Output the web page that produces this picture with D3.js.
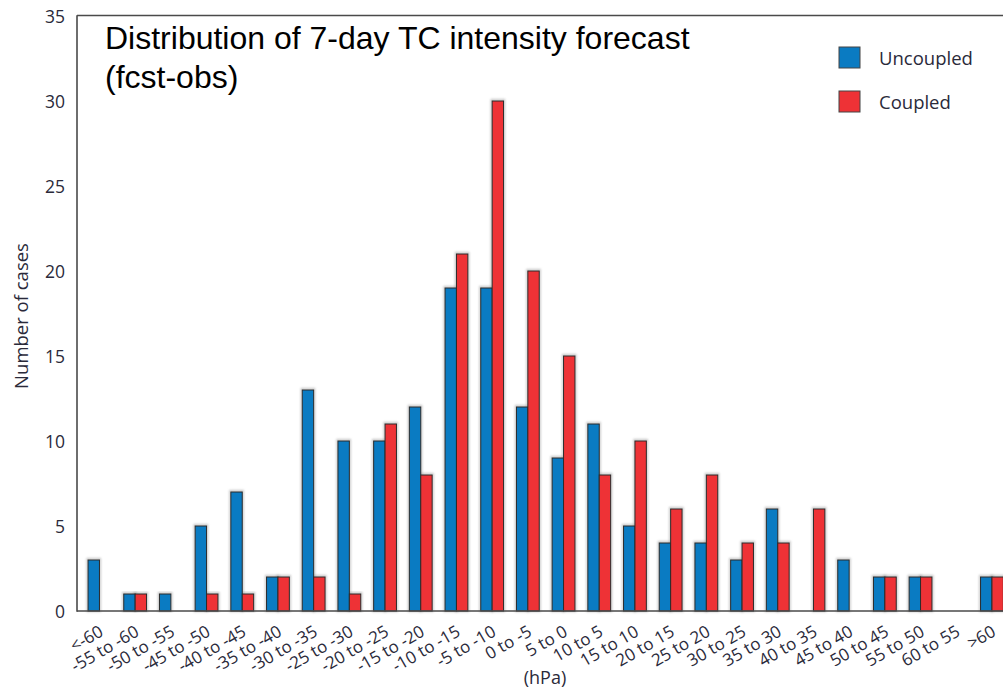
<!DOCTYPE html>
<html>
<head>
<meta charset="utf-8">
<script src="https://cdn.jsdelivr.net/npm/d3@7"></script>
<style>
  html, body { margin: 0; padding: 0; background: #fff; overflow: hidden; }
  svg { display: block; }
</style>
</head>
<body>
<svg id="chart" width="1003" height="690"></svg>
<script>
// Forecast-minus-observed pressure bins (hPa)
const categories = ["<-60", "-55 to -60", "-50 to -55", "-45 to -50", "-40 to -45", "-35 to -40",
  "-30 to -35", "-25 to -30", "-20 to -25", "-15 to -20", "-10 to -15", "-5 to -10", "0 to -5",
  "5 to 0", "10 to 5", "15 to 10", "20 to 15", "25 to 20", "30 to 25", "35 to 30", "40 to 35",
  "45 to 40", "50 to 45", "55 to 50", "60 to 55", ">60"];
const uncoupled = [3, 1, 1, 5, 7, 2, 13, 10, 10, 12, 19, 19, 12, 9, 11, 5, 4, 4, 3, 6, 0, 3, 2, 2, 0, 2];
const coupled   = [0, 1, 0, 1, 1, 2, 2, 1, 11, 8, 21, 30, 20, 15, 8, 10, 6, 8, 4, 4, 6, 0, 2, 2, 0, 2];
const seriesNames = ["Uncoupled", "Coupled"];
const seriesColors = ["#0a7bc2", "#ee3236"];
const yTicks = [0, 5, 10, 15, 20, 25, 30, 35];

const svg = d3.select("#chart");
const plot = { left: 77, top: 16, bottom: 611, right: 1040 };
const step = 35.7;
const x0 = 81.6;

const x = d3.scaleBand()
  .domain(categories)
  .range([x0, x0 + step * categories.length])
  .paddingInner(0).paddingOuter(0);

const xs = d3.scaleBand()
  .domain(seriesNames)
  .range([0, x.bandwidth()])
  .paddingInner(0).paddingOuter(0.566);

const y = d3.scaleLinear().domain([0, 35]).range([plot.bottom, plot.top]);

const textColor = "#2a2a3a";
const uiFont = "'Open Sans', 'Noto Sans', sans-serif";

// soft halo under the bars
const defs = svg.append("defs");
const f = defs.append("filter").attr("id", "halo").attr("x", "-50%").attr("y", "-10%")
  .attr("width", "200%").attr("height", "120%");
f.append("feGaussianBlur").attr("stdDeviation", 0.9);

const rows = categories.map((c, i) => ({ cat: c, vals: [uncoupled[i], coupled[i]] }));

const groups = svg.append("g").selectAll("g")
  .data(rows).join("g")
  .attr("transform", d => `translate(${x(d.cat)},0)`);

const barData = d => d.vals.map((v, k) => ({ name: seriesNames[k], v, k })).filter(b => b.v > 0);

groups.selectAll("rect.halo")
  .data(barData).join("rect")
  .attr("class", "halo")
  .attr("x", b => xs(b.name) - 0.5)
  .attr("y", b => y(b.v) - 1)
  .attr("width", xs.bandwidth() + 1)
  .attr("height", b => y(0) - y(b.v) + 1)
  .attr("fill", "none")
  .attr("stroke", "#9a9a9a")
  .attr("stroke-width", 2.2)
  .attr("opacity", 0.55)
  .attr("filter", "url(#halo)");

groups.selectAll("rect.bar")
  .data(barData).join("rect")
  .attr("class", "bar")
  .attr("x", b => xs(b.name))
  .attr("y", b => y(b.v))
  .attr("width", xs.bandwidth())
  .attr("height", b => y(0) - y(b.v))
  .attr("fill", b => seriesColors[b.k])
  .attr("stroke", "#2b2b2b")
  .attr("stroke-width", 1);

// frame: left axis, top border, baseline
const frame = svg.append("g").attr("stroke", "#4a4a4a").attr("stroke-width", 1.6).attr("fill", "none");
frame.append("line").attr("x1", plot.left).attr("x2", plot.left).attr("y1", plot.top - 0.8).attr("y2", plot.bottom + 0.8);
frame.append("line").attr("x1", plot.left).attr("x2", plot.right).attr("y1", plot.top - 0.5).attr("y2", plot.top - 0.5);
frame.append("line").attr("x1", plot.left).attr("x2", plot.right).attr("y1", plot.bottom).attr("y2", plot.bottom);

// y axis labels
const yAxis = d3.axisLeft(y).tickValues(yTicks).tickSize(0).tickPadding(12);
const gy = svg.append("g").attr("transform", `translate(${plot.left},0)`).call(yAxis);
gy.select(".domain").remove();
gy.selectAll("text")
  .attr("font-family", uiFont).attr("font-size", 17.5).attr("fill", textColor)
  .attr("dy", "0.35em");

// x axis labels, rotated
const xAxis = d3.axisBottom(x).tickSize(0).tickPadding(0);
const gx = svg.append("g").attr("transform", `translate(0,${plot.bottom})`).call(xAxis);
gx.select(".domain").remove();
gx.selectAll(".tick text")
  .attr("font-family", uiFont).attr("font-size", 17).attr("fill", textColor)
  .attr("text-anchor", "end")
  .attr("dy", 0)
  .attr("y", 0)
  .attr("transform", "translate(5,24) rotate(-30)");

// axis titles
svg.append("text")
  .attr("transform", "translate(28,316) rotate(-90)")
  .attr("text-anchor", "middle")
  .attr("font-family", uiFont).attr("font-size", 18.5).attr("fill", textColor)
  .text("Number of cases");

svg.append("text")
  .attr("x", 545).attr("y", 684)
  .attr("text-anchor", "middle")
  .attr("font-family", uiFont).attr("font-size", 18).attr("fill", textColor)
  .text("(hPa)");

// chart title
const title = svg.append("text")
  .attr("font-family", "'Liberation Sans', Arial, sans-serif")
  .attr("font-size", 32).attr("fill", "#000");
title.append("tspan").attr("x", 105).attr("y", 49).text("Distribution of 7-day TC intensity forecast");
title.append("tspan").attr("x", 105).attr("y", 88).text("(fcst-obs)");

// legend
const legend = svg.append("g").selectAll("g")
  .data(seriesNames).join("g")
  .attr("transform", (d, i) => `translate(839,${47 + i * 44})`);
legend.append("rect")
  .attr("width", 21).attr("height", 21)
  .attr("fill", (d, i) => seriesColors[i])
  .attr("stroke", "#444").attr("stroke-width", 1);
legend.append("text")
  .attr("x", 40).attr("y", 18)
  .attr("font-family", uiFont).attr("font-size", 18.5).attr("fill", textColor)
  .text(d => d);
</script>
</body>
</html>
